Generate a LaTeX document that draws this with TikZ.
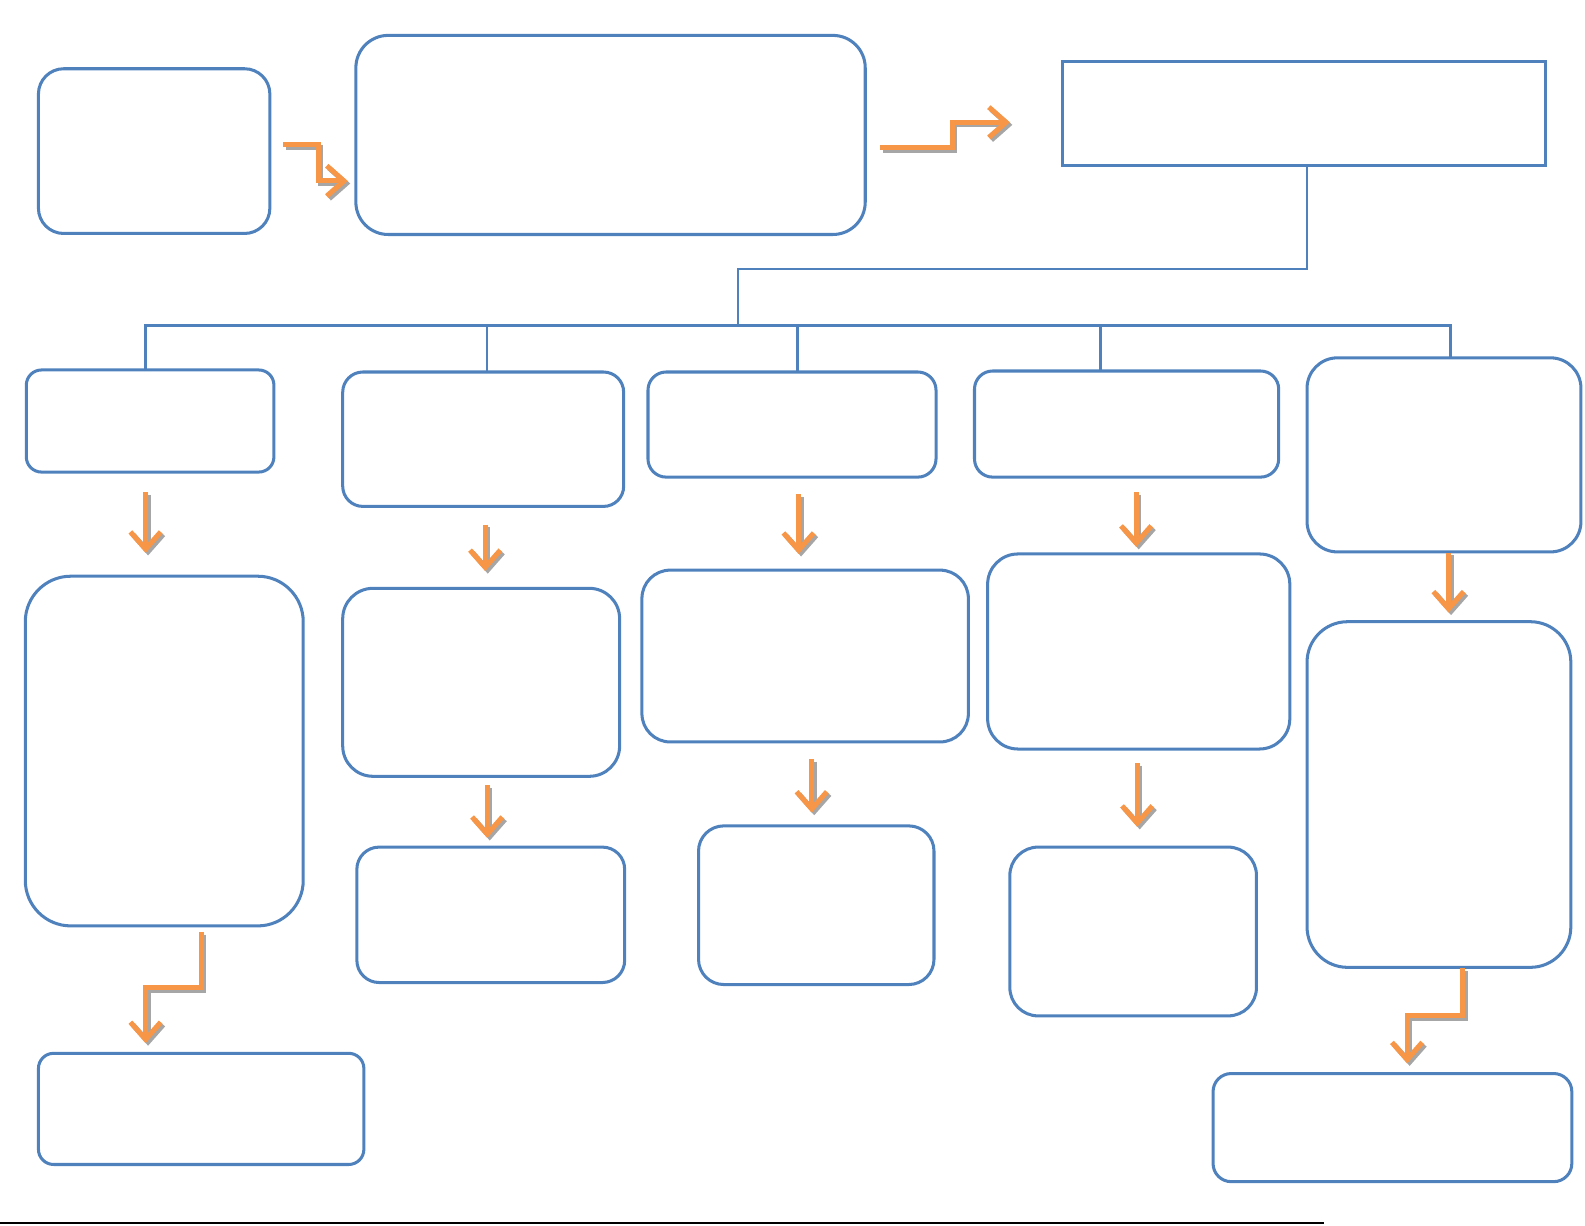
\documentclass[tikz,border=0pt]{standalone}
\usetikzlibrary{arrows.meta}

\definecolor{boxblue}{HTML}{4F81BD}
\definecolor{floworange}{HTML}{F79646}
\definecolor{flowshadow}{HTML}{A6A6A6}

\begin{document}
\begin{tikzpicture}[
        x=0.02cm, y=-0.02cm,
        box/.style={draw=boxblue, line width=0.06cm, inner sep=0pt, outer sep=0pt},
        tree/.style={draw=boxblue, line width=0.05cm},
        flow/.style={
            draw=floworange,
            line width=0.1cm,
            -{Straight Barb[length=0.34cm, width=0.6cm]},
            preaction={
                draw=flowshadow,
                line width=0.1cm,
                -{Straight Barb[length=0.34cm, width=0.6cm]},
                transform canvas={shift={(0.05cm,-0.05cm)}}
            }
        }
    ]
        \useasboundingbox (0,0) rectangle (1568,1212);

        % top row
        \node (start) at (152.5,149.5) [box, minimum width=4.58cm, minimum height=3.26cm, rounded corners=0.5cm] {};
        \node (middle) at (604,133.5) [box, minimum width=10.08cm, minimum height=3.94cm, rounded corners=0.64cm] {};
        \node (header) at (1290,112.5) [box, minimum width=9.56cm, minimum height=2.06cm] {};

        % second row
        \node (branch_a) at (148.5,416.5) [box, minimum width=4.9cm, minimum height=2.02cm, rounded corners=0.3cm] {};
        \node (branch_b) at (478,434.5) [box, minimum width=5.56cm, minimum height=2.66cm, rounded corners=0.4cm] {};
        \node (branch_c) at (783.5,420) [box, minimum width=5.7cm, minimum height=2.08cm, rounded corners=0.36cm] {};
        \node (branch_d) at (1114.5,419.5) [box, minimum width=6.02cm, minimum height=2.1cm, rounded corners=0.36cm] {};
        \node (branch_e) at (1428.5,450) [box, minimum width=5.42cm, minimum height=3.84cm, rounded corners=0.6cm] {};

        % third row
        \node (step_a) at (162.5,743) [box, minimum width=5.5cm, minimum height=6.92cm, rounded corners=0.9cm] {};
        \node (step_b) at (476,675) [box, minimum width=5.48cm, minimum height=3.72cm, rounded corners=0.6cm] {};
        \node (step_c) at (796.5,649) [box, minimum width=6.46cm, minimum height=3.4cm, rounded corners=0.56cm] {};
        \node (step_d) at (1126.5,644.5) [box, minimum width=5.98cm, minimum height=3.86cm, rounded corners=0.6cm] {};
        \node (step_e) at (1423.5,786) [box, minimum width=5.22cm, minimum height=6.84cm, rounded corners=0.8cm] {};

        % bottom row
        \node (end_a) at (199,1097) [box, minimum width=6.44cm, minimum height=2.2cm, rounded corners=0.3cm] {};
        \node (end_b) at (485.5,905) [box, minimum width=5.3cm, minimum height=2.68cm, rounded corners=0.44cm] {};
        \node (end_c) at (807.5,895.5) [box, minimum width=4.66cm, minimum height=3.14cm, rounded corners=0.5cm] {};
        \node (end_d) at (1121,921.5) [box, minimum width=4.88cm, minimum height=3.34cm, rounded corners=0.56cm] {};
        \node (end_e) at (1377.5,1115.5) [box, minimum width=7.1cm, minimum height=2.14cm, rounded corners=0.36cm] {};

        % tree under the header
        \coordinate (hub) at (730,266);
        \coordinate (bus) at (730,322);
        \draw[tree] ([xshift=0.06cm]header.south) |- (hub) -- (bus);
        \draw[tree] (bus) -| ([xshift=-0.09cm]branch_a.north);
        \draw[tree] (bus) -| ([xshift=0.08cm]branch_b.north);
        \draw[tree] (bus) -| ([xshift=0.11cm]branch_c.north);
        \draw[tree] (bus) -| ([xshift=-0.52cm]branch_d.north);
        \draw[tree] (bus) -| ([xshift=0.13cm]branch_e.north);

        % orange arrows
        \coordinate (flow_start_from) at (280,143);
        \coordinate (flow_start_to) at (344,179);
        \draw[flow] (flow_start_from) -| (315,179) -- (flow_start_to);
        \coordinate (flow_middle_from) at (871,146);
        \coordinate (flow_middle_to) at (999,121);
        \draw[flow] (flow_middle_from) -- ++(71,0) |- (flow_middle_to);

        \coordinate (flow_a_from) at (144,487);
        \coordinate (flow_a_to) at (144,547);
        \draw[flow] (flow_a_from) -- (flow_a_to);
        \coordinate (flow_b_from) at (480,519);
        \coordinate (flow_b_to) at (480,565);
        \draw[flow] (flow_b_from) -- (flow_b_to);
        \coordinate (flow_c_from) at (790,489);
        \coordinate (flow_c_to) at (790,548);
        \draw[flow] (flow_c_from) -- (flow_c_to);
        \coordinate (flow_d_from) at (1124,487);
        \coordinate (flow_d_to) at (1124,541);
        \draw[flow] (flow_d_from) -- (flow_d_to);
        \coordinate (flow_e_from) at (1433,547);
        \coordinate (flow_e_to) at (1433,606);
        \draw[flow] (flow_e_from) -- (flow_e_to);

        \coordinate (flow_a2_from) at (199,922);
        \coordinate (flow_a2_to) at (144,1032);
        \draw[flow] (flow_a2_from) -- ++(0,55) -| (flow_a2_to);
        \coordinate (flow_b2_from) at (482,777);
        \coordinate (flow_b2_to) at (482,829);
        \draw[flow] (flow_b2_from) -- (flow_b2_to);
        \coordinate (flow_c2_from) at (803,751);
        \coordinate (flow_c2_to) at (803,804);
        \draw[flow] (flow_c2_from) -- (flow_c2_to);
        \coordinate (flow_d2_from) at (1125,755);
        \coordinate (flow_d2_to) at (1125,818);
        \draw[flow] (flow_d2_from) -- (flow_d2_to);
        \coordinate (flow_e2_from) at (1447,958);
        \coordinate (flow_e2_to) at (1392,1052);
        \draw[flow] (flow_e2_from) -- ++(0,47) -| (flow_e2_to);

        % rule at the foot of the page
        \draw[line width=0.04cm] (0,1210) -- (1310,1210);
    \end{tikzpicture}
\end{document}
